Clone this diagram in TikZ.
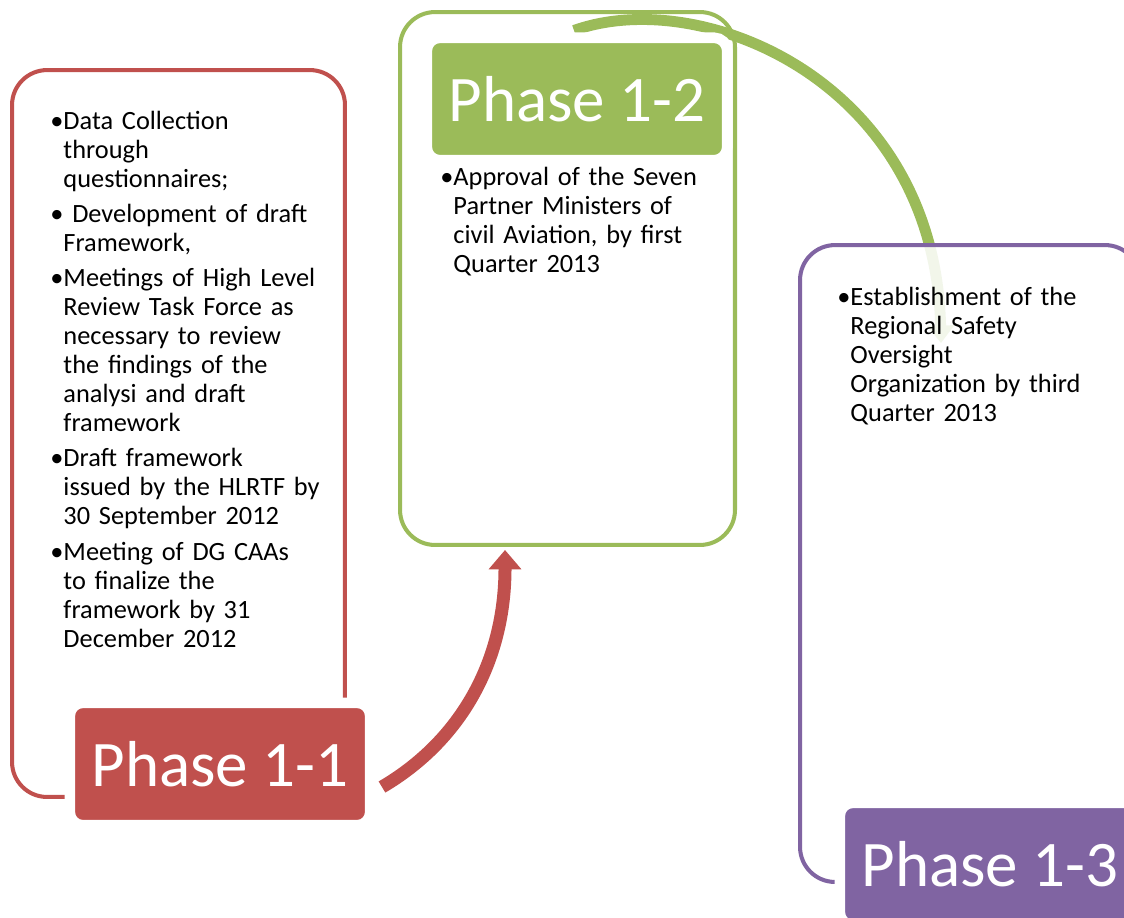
\documentclass[tikz,border=0pt]{standalone}
\usepackage{fontspec}
\setmainfont{Carlito}
\usepackage{tikz}
\usetikzlibrary{arrows.meta}
\usetikzlibrary{backgrounds}
\usetikzlibrary{shapes,positioning}
\definecolor{phred}{HTML}{C0504D}
\definecolor{phgreen}{HTML}{9BBB59}
\definecolor{phpurple}{HTML}{8064A2}
\newlength{\bulw}
\newcommand{\bitem}[1]{\par\hangindent=\bulw\hangafter=1\noindent\textbullet#1\par}
\tikzset{
  phasebox/.style={draw=#1, line width=2.3pt, rounded corners=0.7cm},
  phaselabel/.style={fill=#1, draw=white, line width=6pt, rounded corners=0.26cm,
    minimum width=6.01cm, minimum height=2.45cm, inner sep=0pt,
    text=white, font=\fontsize{37}{44}\selectfont},
  itemtext/.style={text width=6.4cm, align=left, inner sep=0pt, anchor=base west,
    font=\fontsize{15}{16.55}\selectfont,
    execute at begin node={\settowidth{\bulw}{\textbullet}\parskip=3.4pt}},
  bigarrow/.style={line width=#1, line cap=butt}
}

\begin{document}
\begin{tikzpicture}[x=0.02cm, y=-0.02cm, line cap=round]

  \useasboundingbox (0,0) rectangle (1124,917);
  \clip (0,0) rectangle (1124,917);

  \node [phasebox=phred, minimum width=6.66cm, minimum height=14.54cm] (redbox) at (178.5,433.5) {};
  \node [phasebox=phgreen, minimum width=6.7cm, minimum height=10.66cm] (grnbox) at (567.5,278.5) {};
  \node [phasebox=phpurple, fill=white, fill opacity=0.88, minimum width=6.8cm, minimum height=12.74cm] (purbox) at (970,563.5) {};

  \node [itemtext] (redtxt) at (50,94) {%
    \bitem{Data Collection\newline through\newline questionnaires;}
    \bitem{ Development of draft\newline Framework,}
    \bitem{Meetings of High Level\newline Review Task Force as\newline necessary to review\newline the findings of the\newline analysi and draft\newline framework}
    \bitem{Draft framework\newline issued by the HLRTF by\newline 30 September 2012}
    \bitem{Meeting of DG CAAs\newline to finalize the\newline framework by 31\newline December 2012}};

  \node [itemtext] (grntxt) at (440,150) {%
    \bitem{Approval of the Seven\newline Partner Ministers of\newline civil Aviation, by first\newline Quarter 2013}};

  \node [itemtext] (purtxt) at (837,270) {%
    \bitem{Establishment of the\newline Regional Safety\newline Oversight\newline Organization by third\newline Quarter 2013}};

  \node [phaselabel=phred] (redlbl) at (220,764) {Phase 1-1};
  \node [phaselabel=phgreen] (grnlbl) at (577,99) {Phase 1-2};
  \node [phaselabel=phpurple] (purlbl) at (990,864) {Phase 1-3};

  \begin{scope}[on background layer]
    \draw [bigarrow=7.4pt, phred, -{Triangle[width=18pt,length=11pt]}]
      ([xshift=0.13cm,yshift=-0.46cm]redlbl.east) .. controls (462,740) and (505,660) .. ([xshift=-1.25cm,yshift=-0.06cm]grnbox.south);
    \draw [bigarrow=6.2pt, phgreen, -{Triangle[width=15pt,length=10pt]}]
      ([xshift=-0.06cm,yshift=0.04cm]grnlbl.north) .. controls (700,-15) and (935,80) .. ([xshift=-0.58cm,yshift=-2cm]purbox.north);
  \end{scope}

\end{tikzpicture}
\end{document}
